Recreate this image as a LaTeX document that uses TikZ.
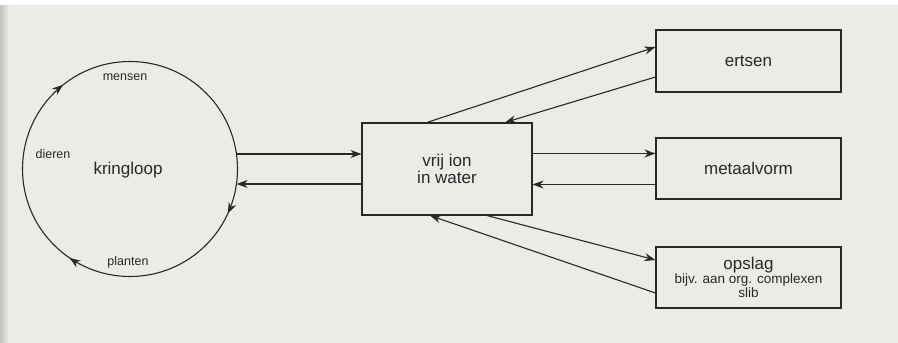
\documentclass[tikz,border=0pt]{standalone}
\usepackage{fontspec}
\setmainfont{Liberation Sans}
\usetikzlibrary{arrows.meta,decorations.markings,calc}

\definecolor{paper}{RGB}{236,235,231}
\definecolor{paperedge}{RGB}{196,195,190}
\definecolor{ink}{RGB}{40,40,40}

\tikzset{
  every node/.style={text=ink},
  box/.style={draw=ink, line width=1.1pt, rectangle, inner sep=0pt, align=center},
  conn/.style={draw=ink, line width=1.1pt, -{Stealth[length=11pt,width=8pt]}},
  lbl/.style={font=\fontsize{12.5}{14}\selectfont},
  big/.style={font=\fontsize{17}{20}\selectfont},
  cycle arrows/.style={
    draw=ink, line width=1.1pt,
    postaction={decorate},
    decoration={markings,
      mark=at position 0.357 with {\arrowreversed{Stealth[length=11pt,width=8pt]}},
      mark=at position 0.655 with {\arrowreversed{Stealth[length=11pt,width=8pt]}},
      mark=at position 0.932 with {\arrowreversed{Stealth[length=11pt,width=8pt]}}}
  }
}

\begin{document}
\begin{tikzpicture}[x=1pt,y=1pt]
  % paper
  \fill[paper] (0,0) rectangle (898,343);
  \shade[left color=paperedge, right color=paper] (0,0) rectangle (9,343);
  \fill[white] (0,338) rectangle (898,343);
  \useasboundingbox (0,0) rectangle (898,343);

  % cycle
  \node[circle, minimum size=215pt, inner sep=0pt] (kr) at (130,174) {};
  \draw[cycle arrows] (kr.center) circle[radius=107.5];
  \node[lbl] (mens) at (125,266) {mensen};
  \node[lbl] (dier) at (53,189) {dieren};
  \node[big] (kring) at (128,173) {kringloop};
  \node[lbl] (plan) at (128,81) {planten};

  % boxes
  \node[box, minimum width=170pt, minimum height=92pt] (vi) at (447,174)
    {\fontsize{17}{21}\selectfont vrij ion\\[0pt]\fontsize{17}{21}\selectfont in water};
  \node[box, minimum width=185pt, minimum height=62pt, big] (er) at (748.5,282) {ertsen};
  \node[box, minimum width=185pt, minimum height=61pt, big] (me) at (748.5,174.5) {metaalvorm};
  \node[box, minimum width=185pt, minimum height=61pt] (op) at (748.5,65.5)
    {\fontsize{17}{18}\selectfont opslag\\
     \fontsize{13.5}{16.5}\selectfont bijv. aan org. complexen\\
     \fontsize{13.5}{16.5}\selectfont slib};

  % cycle <-> free ion
  \draw[conn] (kr.8) -- (kr.8 -| vi.west);
  \draw[conn] (kr.-8.5 -| vi.west) -- (kr.-8.5);

  % free ion <-> ores
  \draw[conn] ([xshift=-20pt]vi.north) -- ([yshift=14pt]er.west);
  \draw[conn] ([yshift=-16pt]er.west) -- ([xshift=58pt]vi.north);

  % free ion <-> metal
  \draw[conn] ([yshift=15.5pt]vi.east) -- ([yshift=15.5pt]vi.east -| me.west);
  \draw[conn] ([yshift=-15.5pt]vi.east -| me.west) -- ([yshift=-15.5pt]vi.east);

  % free ion <-> storage
  \draw[conn] ([xshift=40pt]vi.south) -- ([yshift=17.5pt]op.west);
  \draw[conn] ([yshift=-15.5pt]op.west) -- ([xshift=-17pt]vi.south);
\end{tikzpicture}
\end{document}
